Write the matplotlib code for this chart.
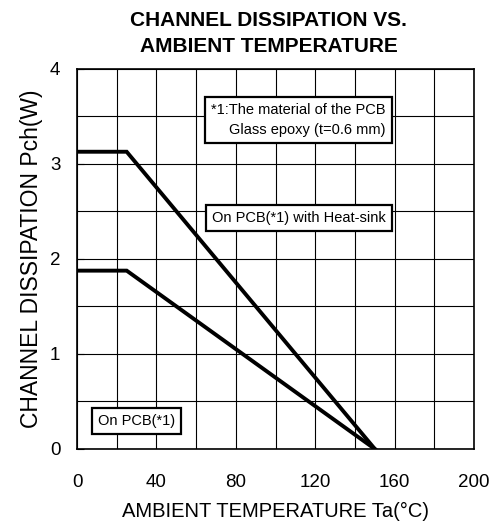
import matplotlib
matplotlib.use("Agg")
import matplotlib.pyplot as plt
from matplotlib.ticker import MultipleLocator

plt.rcParams['font.family'] = ['Liberation Sans', 'DejaVu Sans']

# Data
heatsink_x = [0, 25, 150]
heatsink_y = [3.125, 3.125, 0]
pcb_x = [0, 25, 150]
pcb_y = [1.875, 1.875, 0]
x_ticks = [0, 40, 80, 120, 160, 200]
y_ticks = [0, 1, 2, 3, 4]

fig = plt.figure(figsize=(4.97, 5.23), dpi=100)
ax = fig.add_axes([0.155, 0.1415, 0.799, 0.7275])

ax.set_xlim(0, 200)
ax.set_ylim(0, 4)
ax.xaxis.set_minor_locator(MultipleLocator(20))
ax.yaxis.set_minor_locator(MultipleLocator(0.5))
ax.set_xticks(x_ticks)
ax.set_yticks(y_ticks)
ax.grid(which='both', color='black', linewidth=0.8)
ax.set_axisbelow(True)
ax.tick_params(axis='x', which='both', length=0, labelsize=13.5, pad=18)
ax.tick_params(axis='y', which='major', direction='in', length=5, width=0.8,
               labelsize=13.5, pad=12)
ax.tick_params(axis='y', which='minor', length=0)
for s in ax.spines.values():
    s.set_linewidth(1.2)

ax.plot(heatsink_x, heatsink_y, color='black', linewidth=2.8, solid_joinstyle='miter')
ax.plot(pcb_x, pcb_y, color='black', linewidth=2.8, solid_joinstyle='miter')

box = dict(boxstyle='square,pad=0.42', facecolor='white', edgecolor='black', linewidth=1.6)
ax.text(111.5, 3.456, "*1:The material of the PCB\nGlass epoxy (t=0.6 mm)", ha='center',
        va='center', multialignment='right', fontsize=10.5, bbox=box, linespacing=1.55)
ax.text(111.8, 2.43, "On PCB(*1) with Heat-sink", ha='center', va='center',
        fontsize=10.5, bbox=box)
ax.text(30, 0.294, "On PCB(*1)", ha='center', va='center', fontsize=10.5, bbox=box)

ax.set_xlabel("AMBIENT TEMPERATURE Ta(°C)", fontsize=14.5, labelpad=8)
ax.set_ylabel("CHANNEL DISSIPATION Pch(W)", fontsize=16.5, labelpad=5)
fig.text(0.54, 0.936, "CHANNEL DISSIPATION VS.\nAMBIENT TEMPERATURE", ha='center',
         va='center', fontsize=15, fontweight='bold', linespacing=1.45)

fig.savefig("out.png", dpi=100)
